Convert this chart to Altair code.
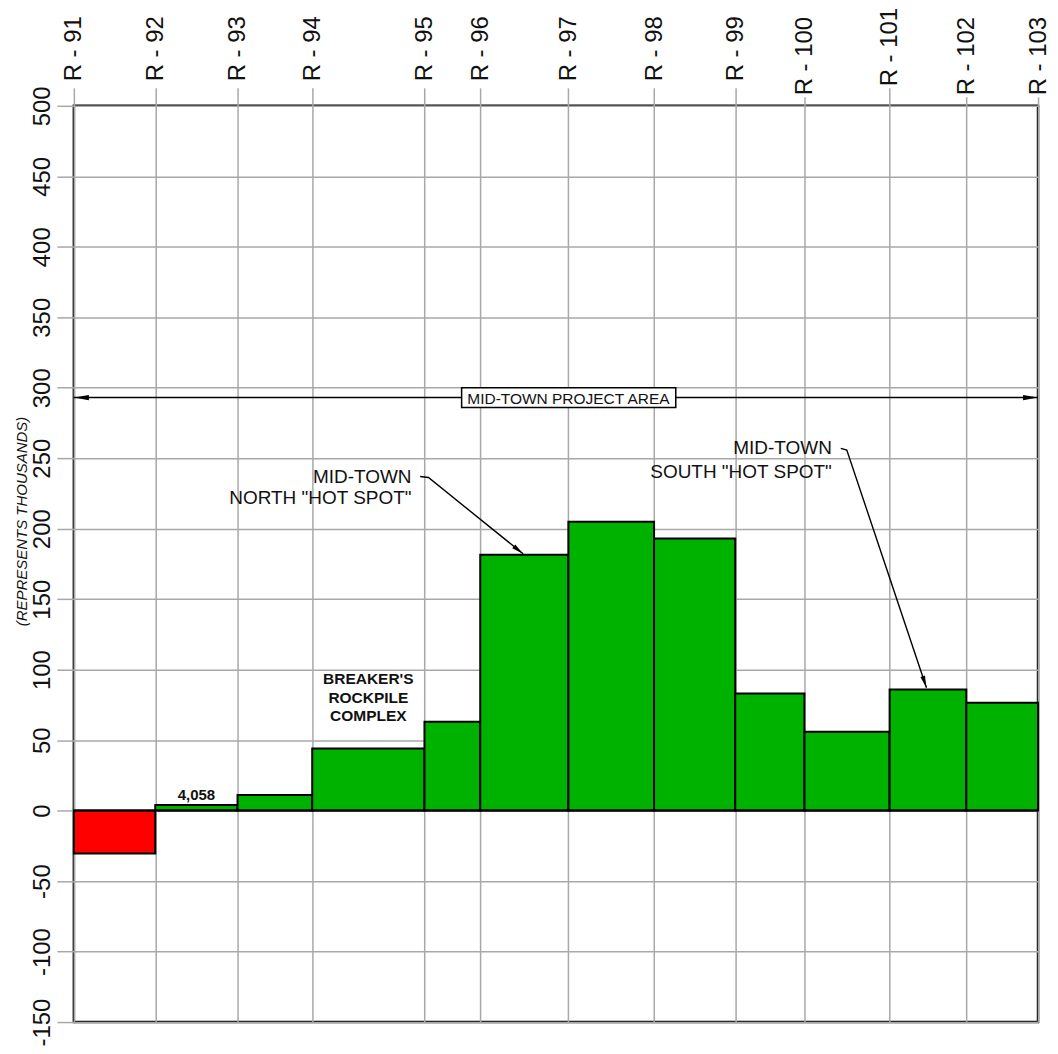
import json
import math
import altair as alt
import pandas as pd

# ---------------- data ----------------
stations = ["R - 91", "R - 92", "R - 93", "R - 94", "R - 95", "R - 96", "R - 97",
            "R - 98", "R - 99", "R - 100", "R - 101", "R - 102", "R - 103"]
# relative position of each station along the profile
station_pos = [0, 81.7, 164.3, 239.3, 352, 408, 496.5, 582.5, 664, 733.5, 819, 896, 968]
# value for each segment between consecutive stations (thousands)
values = [-30.5, 4.058, 11, 44, 63, 181.5, 205, 193, 83, 56, 86, 76.5]
y_ticks = list(range(-150, 501, 50))

# annotation texts / anchor values
area_text = "MID-TOWN PROJECT AREA"
area_y = 293
area_box_x = [389.3, 604.3]
area_box_y = [286, 300]
north_text = ["MID-TOWN", 'NORTH "HOT SPOT"']
north_text_x = 339
north_text_y = [237, 221.5]
north_leader_x = [347.7, 356, 451]
north_leader_y = [237, 236.3, 182.2]
south_text = ["MID-TOWN", 'SOUTH "HOT SPOT"']
south_text_x = 761
south_text_y = [257, 240.5]
south_leader_x = [770, 776, 856]
south_leader_y = [257, 255.8, 87.2]
breaker_text = ["BREAKER'S", "ROCKPILE", "COMPLEX"]
breaker_y = [93.7, 80, 67]
value_label = "4,058"

# ---------------- layout ----------------
W, H = 966, 918
Y_MIN, Y_MAX = -150, 500
FONT = "Liberation Sans"
GREEN = "#00b200"
RED = "#ff0000"
GRID = "#a8a8a8"
px_per_y = H / (Y_MAX - Y_MIN)
px_per_x = W / (station_pos[-1] - station_pos[0])

x_scale = alt.Scale(domain=[station_pos[0], station_pos[-1]], nice=False, zero=False)
y_scale = alt.Scale(domain=[Y_MIN, Y_MAX], nice=False, zero=False)

bars = pd.DataFrame({
    "x1": station_pos[:-1],
    "x2": station_pos[1:],
    "zero": [0] * len(values),
    "v": values,
    "sign": ["neg" if v < 0 else "pos" for v in values],
})

label_expr = "%s[indexof(%s, datum.value)]" % (json.dumps(stations), json.dumps(station_pos))
# longer (three-digit) station labels sit lower, closer to the frame
long_short_tick = "datum.value == %s || datum.value >= %s" % (station_pos[9], station_pos[11])
long_labels = "datum.value >= %s" % station_pos[9]

x_axis = alt.Axis(orient="top", values=station_pos, labelExpr=label_expr, grid=True,
                  gridColor=GRID, gridWidth=1.5, tickColor=GRID, tickWidth=1.5,
                  tickSize={"condition": {"test": long_short_tick, "value": 9}, "value": 18},
                  labelPadding={"condition": {"test": long_labels, "value": 2}, "value": 7},
                  labelAngle=270, labelAlign="left", labelBaseline="middle",
                  labelFontSize=24, labelFont=FONT, labelColor="#111111", domain=False,
                  title=None, labelOverlap=False, labelFlush=False, labelBound=False)
y_axis = alt.Axis(orient="left", values=y_ticks, labelExpr="datum.value + ''", grid=True,
                  gridColor=GRID, gridWidth=1.5, tickColor=GRID, tickWidth=1.5, tickSize=17,
                  labelPadding=7, labelAngle=270, labelAlign="center", labelBaseline="alphabetic",
                  labelFontSize=24, labelFont=FONT, labelColor="#111111", domain=False,
                  labelOverlap=False, labelFlush=False, labelBound=False,
                  title="(REPRESENTS THOUSANDS)", titleFont=FONT, titleFontSize=15,
                  titleFontStyle="italic", titleFontWeight="normal", titleColor="#111111",
                  titleAngle=270, titleAlign="center", titleBaseline="middle",
                  titleX=-52, titleY=416)


def X(field):
    return alt.X(field, scale=x_scale, axis=x_axis)


def Y(field):
    return alt.Y(field, scale=y_scale, axis=y_axis)


bar_layer = alt.Chart(bars).mark_rect(stroke="black", strokeWidth=2).encode(
    x=X("x1:Q"),
    x2="x2:Q",
    y=Y("zero:Q"),
    y2="v:Q",
    color=alt.Color("sign:N", scale=alt.Scale(domain=["neg", "pos"], range=[RED, GREEN]), legend=None),
)

zero_rule = alt.Chart(pd.DataFrame({"y": [0]})).mark_rule(color="black", strokeWidth=2).encode(
    y=Y("y:Q")
)

# project-area dimension line
area_df = pd.DataFrame({"x1": [station_pos[0]], "x2": [station_pos[-1]], "y": [area_y]})
area_line = alt.Chart(area_df).mark_rule(color="black", strokeWidth=1.5).encode(
    x=X("x1:Q"), x2="x2:Q", y=Y("y:Q"),
)
box_df = pd.DataFrame({"x1": [area_box_x[0]], "x2": [area_box_x[1]],
                       "y1": [area_box_y[0]], "y2": [area_box_y[1]]})
area_box = alt.Chart(box_df).mark_rect(fill="white", stroke="black", strokeWidth=1.5).encode(
    x=X("x1:Q"), x2="x2:Q", y=Y("y1:Q"), y2="y2:Q",
)
area_label = alt.Chart(pd.DataFrame({"x": [station_pos[6]], "y": [area_y], "t": [area_text]})).mark_text(
    font=FONT, fontSize=15.5, color="#111111", align="center", baseline="middle", dy=1
).encode(x=X("x:Q"), y=Y("y:Q"), text="t:N")

area_heads = pd.DataFrame({"x": [station_pos[0], station_pos[-1]], "y": [area_y, area_y], "ang": [180, 0]})
area_head_layer = alt.Chart(area_heads).mark_point(
    shape="M0,0 L-1,-0.18 L-1,0.18 Z", filled=True, color="black", opacity=1, size=900, strokeWidth=0
).encode(x=X("x:Q"), y=Y("y:Q"), angle=alt.Angle("ang:Q", scale=None))

# leader lines
rows = []
for name, xs, ys in (("north", north_leader_x, north_leader_y), ("south", south_leader_x, south_leader_y)):
    for i, (xx, yy) in enumerate(zip(xs, ys)):
        rows.append({"id": name, "ord": i, "x": xx, "y": yy})
leader_df = pd.DataFrame(rows)
leader_layer = alt.Chart(leader_df).mark_line(color="black", strokeWidth=1.4).encode(
    x=X("x:Q"), y=Y("y:Q"), detail="id:N", order="ord:Q",
)


def head_angle(xs, ys):
    dx = (xs[-1] - xs[-2]) * px_per_x
    dy = -(ys[-1] - ys[-2]) * px_per_y
    return math.degrees(math.atan2(dy, dx)) % 360


heads_df = pd.DataFrame({
    "x": [north_leader_x[-1], south_leader_x[-1]],
    "y": [north_leader_y[-1], south_leader_y[-1]],
    "ang": [head_angle(north_leader_x, north_leader_y), head_angle(south_leader_x, south_leader_y)],
})
leader_heads = alt.Chart(heads_df).mark_point(
    shape="M0,0 L-1,-0.2 L-1,0.2 Z", filled=True, color="black", opacity=1, size=576, strokeWidth=0
).encode(x=X("x:Q"), y=Y("y:Q"), angle=alt.Angle("ang:Q", scale=None))

callout_df = pd.DataFrame({
    "x": [north_text_x] * 2 + [south_text_x] * 2,
    "y": north_text_y + south_text_y,
    "t": north_text + south_text,
})
callout_layer = alt.Chart(callout_df).mark_text(
    font=FONT, fontSize=19, color="#111111", align="right", baseline="middle"
).encode(x=X("x:Q"), y=Y("y:Q"), text="t:N")

breaker_df = pd.DataFrame({
    "x": [(station_pos[3] + station_pos[4]) / 2] * 3,
    "y": breaker_y,
    "t": breaker_text,
})
breaker_layer = alt.Chart(breaker_df).mark_text(
    font=FONT, fontSize=15.5, fontWeight="bold", color="#111111", align="center", baseline="middle"
).encode(x=X("x:Q"), y=Y("y:Q"), text="t:N")

val_df = pd.DataFrame({
    "x": [(station_pos[1] + station_pos[2]) / 2],
    "y": [values[1]],
    "t": [value_label],
})
val_layer = alt.Chart(val_df).mark_text(
    font=FONT, fontSize=15, fontWeight="bold", color="#111111", align="center",
    baseline="alphabetic", dy=-5
).encode(x=X("x:Q"), y=Y("y:Q"), text="t:N")

chart = alt.layer(
    bar_layer, zero_rule, area_line, area_box, area_label, area_head_layer,
    leader_layer, leader_heads, callout_layer, breaker_layer, val_layer
).properties(
    width=W, height=H,
    autosize=alt.AutoSizeParams(type="none"),
    padding={"left": 66, "top": 97, "right": 12, "bottom": 25},
    background="white",
).configure_view(stroke="black", strokeWidth=2.5)

chart.save("out.html", embed_options={"renderer": "svg", "actions": False})
